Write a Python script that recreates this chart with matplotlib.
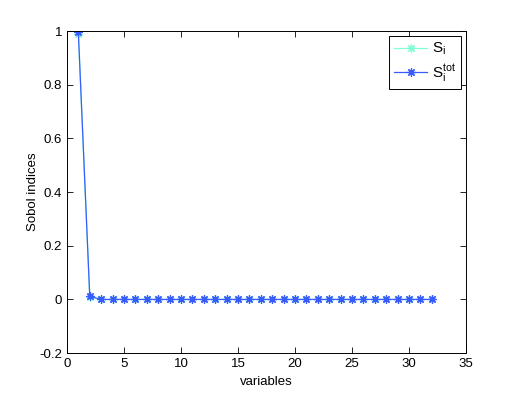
import matplotlib
matplotlib.use("Agg")
import matplotlib.pyplot as plt
import numpy as np

plt.rcParams['font.family'] = ['Liberation Sans', 'DejaVu Sans']
plt.rcParams['mathtext.fontset'] = 'custom'
plt.rcParams['mathtext.rm'] = 'Liberation Sans'
plt.rcParams['mathtext.it'] = 'Liberation Sans'

variables = list(range(1, 33))
S_i = [0.99, 0.008] + [0.0] * 30
S_tot = [0.995, 0.012] + [0.0] * 30

fig = plt.figure(figsize=(5.15, 3.99), dpi=100)
ax = fig.add_axes([0.130, 0.115, 0.775, 0.807])

ast = (8, 2, 0)
ax.plot(variables, S_i, color='#80ffd8', marker=ast, markersize=6, markeredgewidth=0.9,
        linewidth=0.9, label=r'$\mathrm{S_i}$')
ax.plot(variables, S_tot, color='#3a5cff', marker=ast, markersize=6, markeredgewidth=0.9,
        linewidth=0.9, label=r'$\mathrm{S_i^{tot}}$')

ax.set_xlim(0, 35)
ax.set_ylim(-0.2, 1)
ax.set_xticks([0, 5, 10, 15, 20, 25, 30, 35])
ax.set_yticks([-0.2, 0, 0.2, 0.4, 0.6, 0.8, 1])
ax.set_yticklabels(['-0.2', '0', '0.2', '0.4', '0.6', '0.8', '1'])
ax.tick_params(direction='in', top=True, right=True, labelsize=9.5, length=4, width=0.6)
for s in ax.spines.values():
    s.set_linewidth(0.7)
ax.set_xlabel('variables', fontsize=9.5, labelpad=4)
ax.set_ylabel('Sobol indices', fontsize=9.5, labelpad=0.5)

leg = ax.legend(loc='upper right', fontsize=11, frameon=True, fancybox=False,
                edgecolor='black', framealpha=1, borderaxespad=0.3,
                handlelength=2.2, handletextpad=0.3, labelspacing=0.3, borderpad=0.35)
leg.get_frame().set_linewidth(0.7)

fig.savefig('out.png', dpi=100)
